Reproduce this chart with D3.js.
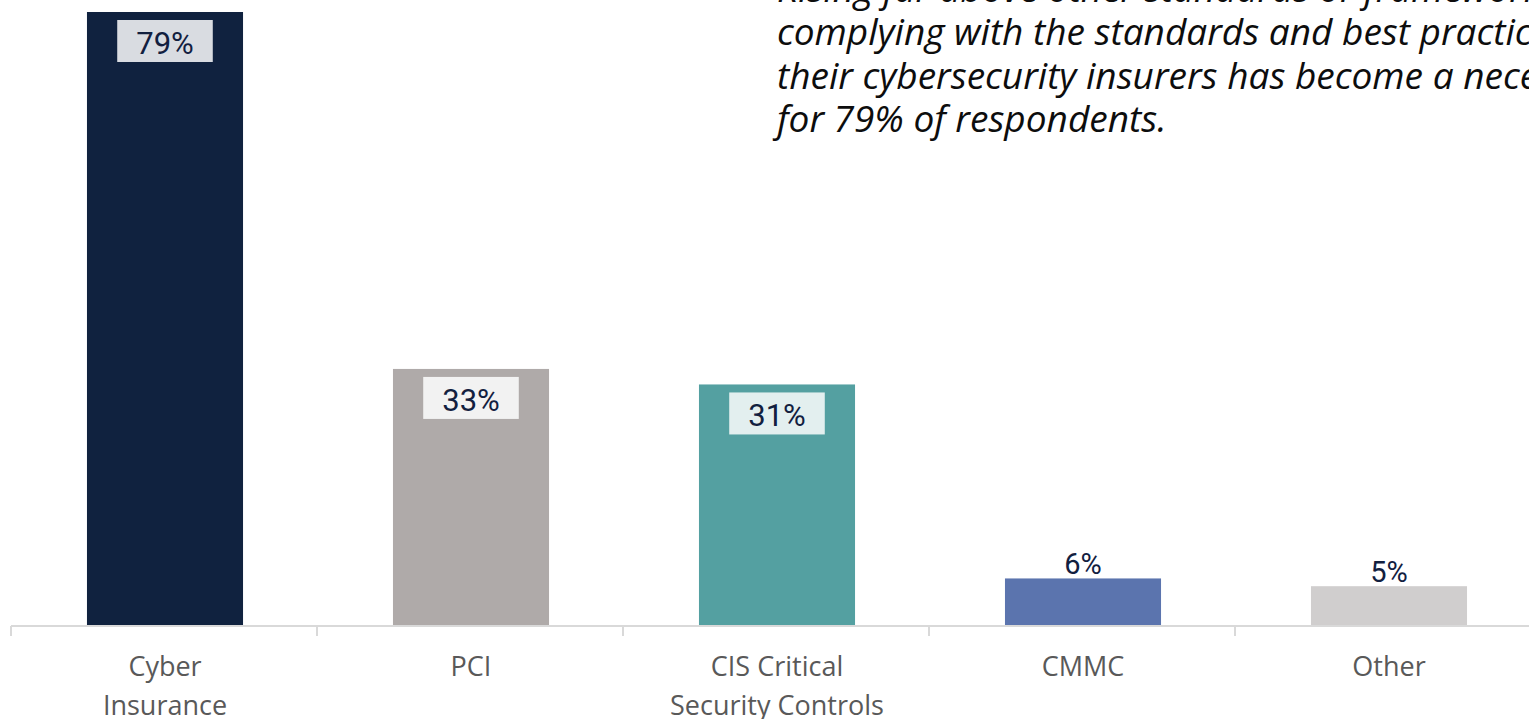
<!DOCTYPE html>
<html>
<head>
<meta charset="utf-8">
<script src="https://cdn.jsdelivr.net/npm/d3@7"></script>
<style>
  html, body { margin: 0; padding: 0; background: #ffffff; }
  svg { display: block; }
</style>
</head>
<body>
<svg id="chart" width="1529" height="719"></svg>
<script>
const categories = ["Cyber Insurance", "PCI", "CIS Critical Security Controls", "CMMC", "Other"];
const categoryLines = [["Cyber", "Insurance"], ["PCI"], ["CIS Critical", "Security Controls"], ["CMMC"], ["Other"]];
const values = [79, 33, 31, 6, 5];
const valueLabels = ["79%", "33%", "31%", "6%", "5%"];
const barColors = ["#10223f", "#afaaa9", "#54a0a1", "#5b74ae", "#d0cece"];
const labelBoxColors = ["#d9dce1", "#f2f2f2", "#e3efef", null, null];
const calloutLines = [
  "Rising far above other standards or frameworks,",
  "complying with the standards and best practices of",
  "their cybersecurity insurers has become a necessity",
  "for 79% of respondents."
];

const svg = d3.select("#chart");
const margin = { left: 11, right: -12, top: 12, bottom: 94 };
const W = 1529, H = 719;

const x = d3.scaleBand()
  .domain(categories)
  .range([margin.left, W - margin.right])
  .paddingInner(0.49)
  .paddingOuter(0.245);

const y = d3.scaleLinear()
  .domain([0, 79])
  .range([H - margin.bottom, margin.top]);

// Bars
svg.append("g").selectAll("rect")
  .data(categories)
  .join("rect")
  .attr("x", d => x(d) + 1)
  .attr("width", x.bandwidth())
  .attr("y", (d, i) => y(values[i]))
  .attr("height", (d, i) => y(0) - y(values[i]))
  .attr("fill", (d, i) => barColors[i]);

// Axis
const step = x.step();
const axisG = svg.append("g").attr("transform", `translate(0,${y(0)})`);
axisG.append("line")
  .attr("x1", margin.left).attr("x2", W)
  .attr("y1", 1).attr("y2", 1)
  .attr("stroke", "#d9d9d9").attr("stroke-width", 2);
const tickXs = d3.range(categories.length + 1).map(i => margin.left + i * step);
axisG.selectAll("line.tick")
  .data(tickXs)
  .join("line")
  .attr("class", "tick")
  .attr("x1", d => d).attr("x2", d => d)
  .attr("y1", 1).attr("y2", 11)
  .attr("stroke", "#d9d9d9").attr("stroke-width", 2);

// Category labels
const catG = svg.append("g");
categories.forEach((c, i) => {
  const cx = x(c) + x.bandwidth() / 2 + 1;
  const t = catG.append("text")
    .attr("x", cx)
    .attr("y", 676)
    .attr("text-anchor", "middle")
    .attr("font-family", "'Open Sans', sans-serif")
    .attr("font-size", 27)
    .attr("fill", "#595959");
  categoryLines[i].forEach((ln, j) => {
    t.append("tspan")
      .attr("x", cx)
      .attr("dy", j === 0 ? 0 : 39)
      .text(ln);
  });
});

// Value labels
const lblG = svg.append("g");
categories.forEach((c, i) => {
  const cx = x(c) + x.bandwidth() / 2 + 1;
  const inside = labelBoxColors[i] !== null;
  if (inside) {
    const top = y(values[i]) + 8;
    const rect = lblG.append("rect").attr("fill", labelBoxColors[i]);
    const t = lblG.append("text")
      .attr("x", cx)
      .attr("y", top + 34)
      .attr("text-anchor", "middle")
      .attr("font-family", "Roboto, sans-serif")
      .attr("font-size", 31)
      .attr("fill", "#12203f")
      .text(valueLabels[i]);
    const bb = t.node().getBBox();
    rect.attr("x", cx - bb.width / 2 - 19)
      .attr("width", bb.width + 38)
      .attr("y", top)
      .attr("height", 42);
  } else {
    lblG.append("text")
      .attr("x", cx)
      .attr("y", y(values[i]) - 4)
      .attr("text-anchor", "middle")
      .attr("font-family", "Roboto, sans-serif")
      .attr("font-size", 29)
      .attr("fill", "#12203f")
      .text(valueLabels[i]);
  }
});

// Callout text
const callout = svg.append("text")
  .attr("x", 777)
  .attr("y", 1.5)
  .attr("font-family", "'Open Sans', sans-serif")
  .attr("font-style", "italic")
  .attr("font-size", 37)
  .attr("fill", "#0d0d0d");
calloutLines.forEach((ln, j) => {
  callout.append("tspan")
    .attr("x", 777)
    .attr("dy", j === 0 ? 0 : 43.5)
    .text(ln);
});
</script>
</body>
</html>
